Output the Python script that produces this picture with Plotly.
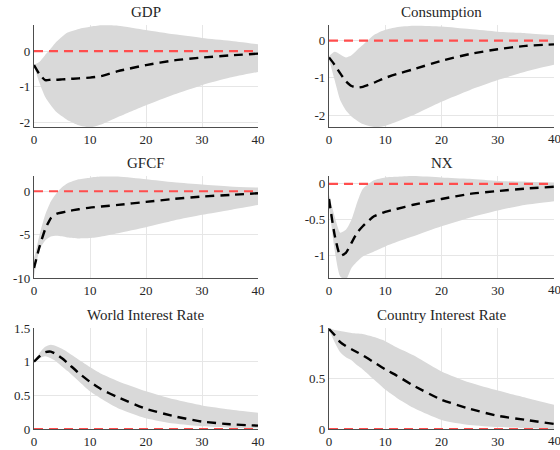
import plotly.graph_objects as go

# Horizon (quarters)
T = [0, 1, 2, 3, 4, 5, 6, 8, 10, 12, 15, 20, 25, 30, 35, 40]

titles = ["GDP", "Consumption", "GFCF", "NX", "World Interest Rate", "Country Interest Rate"]

gdp_med = [-0.39, -0.65, -0.81, -0.80, -0.80, -0.79, -0.78, -0.76, -0.74, -0.70, -0.56, -0.39, -0.26, -0.18, -0.12, -0.07]
gdp_hi = [-0.38, -0.30, -0.11, 0.07, 0.26, 0.40, 0.52, 0.62, 0.68, 0.72, 0.71, 0.59, 0.47, 0.37, 0.29, 0.19]
gdp_lo = [-0.42, -0.90, -1.28, -1.51, -1.70, -1.82, -1.93, -2.07, -2.13, -2.05, -1.84, -1.51, -1.21, -0.95, -0.74, -0.58]

con_med = [-0.45, -0.65, -0.88, -1.09, -1.22, -1.26, -1.24, -1.13, -1.00, -0.90, -0.77, -0.54, -0.36, -0.23, -0.14, -0.10]
con_hi = [-0.42, -0.30, -0.37, -0.45, -0.39, -0.25, -0.12, 0.15, 0.29, 0.36, 0.40, 0.38, 0.31, 0.24, 0.20, 0.15]
con_lo = [-0.50, -1.06, -1.60, -1.87, -2.04, -2.15, -2.24, -2.32, -2.29, -2.18, -2.00, -1.64, -1.33, -1.06, -0.83, -0.65]

inv_med = [-8.85, -6.36, -4.37, -3.10, -2.60, -2.45, -2.30, -2.07, -1.88, -1.76, -1.57, -1.23, -0.88, -0.61, -0.42, -0.23]
inv_hi = [-7.8, -5.0, -2.72, -1.19, -0.23, 0.46, 0.92, 1.38, 1.57, 1.69, 1.69, 1.38, 1.03, 0.77, 0.54, 0.42]
inv_lo = [-9.8, -6.74, -5.67, -5.21, -5.13, -5.20, -5.33, -5.44, -5.40, -5.21, -4.83, -4.14, -3.37, -2.72, -2.15, -1.57]

nx_med = [-0.21, -0.71, -1.00, -0.96, -0.82, -0.68, -0.59, -0.45, -0.39, -0.35, -0.29, -0.21, -0.14, -0.10, -0.065, -0.04]
nx_hi = [-0.15, -0.45, -0.68, -0.64, -0.50, -0.26, -0.07, 0.05, 0.09, 0.10, 0.11, 0.09, 0.07, 0.04, 0.03, 0.02]
nx_lo = [-0.30, -0.92, -1.29, -1.33, -1.17, -1.08, -1.01, -0.94, -0.87, -0.81, -0.73, -0.59, -0.47, -0.37, -0.29, -0.24]

wr_med = [1.00, 1.08, 1.14, 1.15, 1.11, 1.05, 0.98, 0.83, 0.70, 0.59, 0.47, 0.30, 0.19, 0.11, 0.07, 0.05]
wr_hi = [1.00, 1.13, 1.22, 1.25, 1.23, 1.19, 1.14, 1.03, 0.92, 0.82, 0.71, 0.56, 0.44, 0.35, 0.29, 0.24]
wr_lo = [0.99, 1.05, 1.08, 1.05, 1.00, 0.93, 0.86, 0.71, 0.56, 0.45, 0.31, 0.16, 0.08, 0.04, 0.02, 0.01]

cr_med = [0.99, 0.93, 0.86, 0.82, 0.79, 0.76, 0.73, 0.66, 0.59, 0.53, 0.43, 0.29, 0.20, 0.13, 0.09, 0.05]
cr_hi = [1.00, 0.98, 0.97, 0.96, 0.95, 0.945, 0.94, 0.91, 0.87, 0.81, 0.73, 0.57, 0.46, 0.38, 0.31, 0.24]
cr_lo = [0.98, 0.86, 0.76, 0.71, 0.68, 0.63, 0.59, 0.49, 0.39, 0.31, 0.21, 0.09, 0.04, 0.02, 0.01, 0.0]

medians = [gdp_med, con_med, inv_med, nx_med, wr_med, cr_med]
uppers = [gdp_hi, con_hi, inv_hi, nx_hi, wr_hi, cr_hi]
lowers = [gdp_lo, con_lo, inv_lo, nx_lo, wr_lo, cr_lo]

x_ticks = [0, 10, 20, 30, 40]
y_tickvals = [[0, -1, -2], [0, -1, -2], [0, -5, -10], [0, -0.5, -1], [0, 0.5, 1, 1.5], [0, 0.5, 1]]
y_ticktext = [["0", "-1", "-2"], ["0", "-1", "-2"], ["0", "-5", "-10"], ["0", "-0.5", "-1"],
              ["0", "0.5", "1", "1.5"], ["0", "0.5", "1"]]
y_ranges = [[-2.12, 0.73], [-2.32, 0.42], [-10, 1.76], [-1.31, 0.11], [0, 1.5], [0, 1]]

W, H = 560, 450
col_px = [(34, 258), (329, 554)]
row_px = [(25, 127), (176, 278), (328, 429)]

FONT = "Liberation Serif, Times New Roman, serif"
TICK_FONT = dict(family=FONT, size=13, color="#262626")
fig = go.Figure()
annotations = []

for i in range(6):
    r, c = divmod(i, 2)
    xa = "x" if i == 0 else f"x{i+1}"
    ya = "y" if i == 0 else f"y{i+1}"
    xkey = "xaxis" if i == 0 else f"xaxis{i+1}"
    ykey = "yaxis" if i == 0 else f"yaxis{i+1}"
    x0, x1 = col_px[c]
    t0, t1 = row_px[r]
    xdom = [x0 / W, x1 / W]
    ydom = [1 - t1 / H, 1 - t0 / H]

    fig.add_trace(go.Scatter(x=T, y=lowers[i], mode="lines", line=dict(width=0, shape="spline", smoothing=0.6),
                             xaxis=xa, yaxis=ya, showlegend=False, hoverinfo="skip"))
    fig.add_trace(go.Scatter(x=T, y=uppers[i], mode="lines", line=dict(width=0, shape="spline", smoothing=0.6),
                             fill="tonexty", fillcolor="#d9d9d9",
                             xaxis=xa, yaxis=ya, showlegend=False, hoverinfo="skip"))
    fig.add_trace(go.Scatter(x=[T[0], T[-1]], y=[0, 0], mode="lines",
                             line=dict(color="#ff4d4d", width=2.2, dash="9px,6px"),
                             xaxis=xa, yaxis=ya, showlegend=False))
    fig.add_trace(go.Scatter(x=T, y=medians[i], mode="lines",
                             line=dict(color="black", width=2.4, dash="9px,6px", shape="spline", smoothing=0.5),
                             xaxis=xa, yaxis=ya, showlegend=False))

    fig.layout[xkey] = dict(domain=xdom, range=[0, 40], anchor=ya, tickvals=x_ticks, automargin=False,
                            showgrid=True, gridcolor="#e6e6e6", gridwidth=1,
                            showline=True, linecolor="#4d4d4d", linewidth=1.2,
                            zeroline=False, ticks="", tickfont=TICK_FONT)
    fig.layout[ykey] = dict(domain=ydom, range=y_ranges[i], anchor=xa, automargin=False,
                            tickvals=y_tickvals[i], ticktext=y_ticktext[i],
                            showgrid=True, gridcolor="#e6e6e6", gridwidth=1,
                            showline=True, linecolor="#4d4d4d", linewidth=1.2,
                            zeroline=False, ticks="", tickfont=TICK_FONT)
    annotations.append(dict(text=titles[i], x=(xdom[0] + xdom[1]) / 2, y=1 - (t0 - 13) / H,
                            xref="paper", yref="paper", showarrow=False, xanchor="center", yanchor="middle",
                            font=dict(family=FONT, size=15, color="#262626")))
    if c == 1:
        # last tick label overflows the page edge; draw it so it appears cut off like the original
        annotations.append(dict(text=str(x_ticks[-1]), x=x_ticks[-1], xref=xa,
                                y=ydom[0], yref="paper", yshift=-2, showarrow=False,
                                xanchor="center", yanchor="top", font=TICK_FONT))

fig.update_layout(width=W, height=H, margin=dict(l=0, r=0, t=0, b=0, autoexpand=False),
                  plot_bgcolor="white", paper_bgcolor="white", annotations=annotations,
                  showlegend=False)

fig.write_html("out.html")
